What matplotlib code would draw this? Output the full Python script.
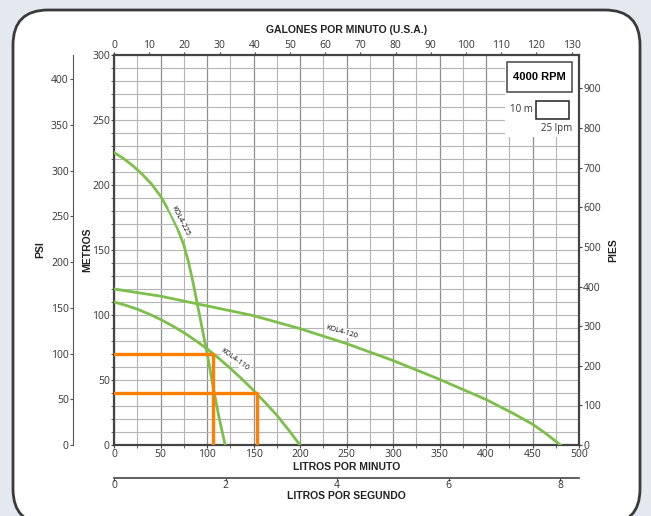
import matplotlib
matplotlib.use("Agg")
import matplotlib.pyplot as plt
from matplotlib.patches import FancyBboxPatch, Rectangle

# Pump curves, flow in litres per minute, head in metres
kol225_q = [0, 10, 20, 30, 40, 50, 60, 68, 75, 80, 85, 90, 95, 100, 106.5, 113, 119.5]
kol225_h = [225, 220.5, 215, 208.5, 201, 191.5, 179, 167, 154, 141, 125, 107, 89, 71, 45, 21, 0]

kol120_q = [0, 50, 100, 150, 200, 250, 300, 350, 400, 430, 450, 465, 480]
kol120_h = [120, 114.5, 107, 99.5, 89.5, 78, 65, 50.5, 35, 24, 16, 8.5, 0]

kol110_q = [0, 12.5, 25, 37.5, 50, 62.5, 75, 87.5, 100, 112.5, 125, 137.5, 150, 162.5, 175, 187.5, 200]
kol110_h = [110, 107.5, 104.5, 100.8, 96.6, 91.8, 86.5, 80.5, 74, 66.8, 59, 50.8, 42, 32.7, 23, 11.8, 0]

# Operating points (lpm, m)
op_q = [106, 154]
op_h = [70, 40]

lpm_ticks = [0, 50, 100, 150, 200, 250, 300, 350, 400, 450, 500]
m_ticks = [0, 50, 100, 150, 200, 250, 300]
gpm_ticks = list(range(0, 131, 10))
lps_ticks = [0, 2, 4, 6, 8]
psi_ticks = list(range(0, 401, 50))
ft_ticks = list(range(0, 901, 100))

GREEN = "#7cbf4a"
ORANGE = "#ff7f00"
DARK = "#444444"
TXT = "#333333"
narrow = ["Liberation Sans Narrow", "Liberation Sans", "DejaVu Sans"]
plt.rcParams["font.family"] = ["Open Sans", "DejaVu Sans"]

fig = plt.figure(figsize=(6.51, 5.16), dpi=100)
fig.patch.set_facecolor("#e3e9ef")

panel = FancyBboxPatch((0.13, -0.08), 6.27, 5.14,
                       boxstyle="round,pad=0,rounding_size=0.35",
                       transform=fig.dpi_scale_trans,
                       facecolor="white", edgecolor="#3a3a3a", lw=2, zorder=-10)
fig.patches.append(panel)

ax = fig.add_axes([114 / 651, 1 - 445 / 516, 465 / 651, 390 / 516])
ax.set_xlim(0, 500)
ax.set_ylim(0, 300)
ax.set_facecolor("white")

ax.set_xticks(lpm_ticks)
ax.set_xticks(range(0, 501, 25), minor=True)
ax.set_yticks(m_ticks)
ax.set_yticks(range(0, 301, 10), minor=True)
ax.grid(which="minor", color="#b5b5b5", lw=0.8)
ax.grid(which="major", axis="x", color="#8f8f8f", lw=0.9)
ax.grid(which="major", axis="y", color="#b5b5b5", lw=0.8)
ax.set_axisbelow(True)
ax.tick_params(which="both", length=2, color=DARK, labelsize=7.5, labelcolor=TXT, pad=1)
for s in ax.spines.values():
    s.set_color(DARK)
    s.set_linewidth(1.6)

# white area behind the RPM legend
ax.add_patch(Rectangle((420, 237), 80, 63, facecolor="white", edgecolor="none", zorder=1.5))

ax.plot(kol225_q, kol225_h, color=GREEN, lw=2, zorder=3, solid_joinstyle="round")
ax.plot(kol120_q, kol120_h, color=GREEN, lw=2, zorder=3, solid_joinstyle="round")
ax.plot(kol110_q, kol110_h, color=GREEN, lw=2, zorder=3, solid_joinstyle="round")

for q, h in zip(op_q, op_h):
    ax.plot([0, q, q], [h, h, 0], color=ORANGE, lw=2.4, zorder=4)

lbl = dict(fontsize=5.2, color="black", ha="center", va="center", zorder=5,
           bbox=dict(facecolor="white", edgecolor="none", pad=0.6))
ax.text(71, 172, "KOL4-225", rotation=-63, **lbl)
ax.text(130, 66, "KOL4-110", rotation=-36, **lbl)
ax.text(245, 87, "KOL4-120", rotation=-16, **lbl)

# RPM legend
ax.add_patch(Rectangle((0.845, 0.905), 0.14, 0.077, transform=ax.transAxes,
                       facecolor="white", edgecolor=DARK, lw=1.1, zorder=6))
ax.text(0.915, 0.944, "4000 RPM", transform=ax.transAxes, ha="center", va="center",
        fontsize=8, fontweight="bold", family=narrow, zorder=7)
ax.add_patch(Rectangle((0.908, 0.835), 0.071, 0.048, transform=ax.transAxes,
                       facecolor="white", edgecolor="#222222", lw=1.1, zorder=6))
ax.text(0.9, 0.86, "10 m", transform=ax.transAxes, ha="right", va="center",
        fontsize=7, color=TXT, zorder=6)
ax.text(0.985, 0.812, "25 lpm", transform=ax.transAxes, ha="right", va="center",
        fontsize=7, color=TXT, zorder=6)

ax.set_xlabel("LITROS POR MINUTO", fontsize=7.5, fontweight="bold", family=narrow,
              color="#222222", labelpad=1)
ax.set_ylabel("METROS", fontsize=7.5, fontweight="bold", family=narrow,
              color="#222222", labelpad=0)

# top axis: gallons per minute
ax_gpm = ax.twiny()
ax_gpm.set_xlim(0, 500 / 3.785)
ax_gpm.set_xticks(gpm_ticks)
ax_gpm.tick_params(length=2, color=DARK, labelsize=7.5, labelcolor=TXT, pad=1)
ax_gpm.set_xlabel("GALONES POR MINUTO (U.S.A.)", fontsize=7.5, fontweight="bold",
                  family=narrow, color="#222222", labelpad=5)
for s in ax_gpm.spines.values():
    s.set_visible(False)

# bottom axis: litres per second
ax_lps = ax.twiny()
ax_lps.set_xlim(0, 500 / 60)
ax_lps.set_xticks(lps_ticks)
ax_lps.xaxis.set_ticks_position("bottom")
ax_lps.xaxis.set_label_position("bottom")
ax_lps.spines["bottom"].set_position(("outward", 23.5))
for k in ["top", "left", "right"]:
    ax_lps.spines[k].set_visible(False)
ax_lps.spines["bottom"].set_color(DARK)
ax_lps.spines["bottom"].set_linewidth(1.2)
ax_lps.tick_params(length=2, color=DARK, labelsize=7.5, labelcolor=TXT, pad=0)
ax_lps.set_xlabel("LITROS POR SEGUNDO", fontsize=7.5, fontweight="bold", family=narrow,
                  color="#222222", labelpad=0)

# right axis: feet
ax_ft = ax.twinx()
ax_ft.set_ylim(0, 300 * 3.2808)
ax_ft.set_yticks(ft_ticks)
ax_ft.tick_params(length=2, color=DARK, labelsize=7.5, labelcolor=TXT, pad=1)
ax_ft.set_ylabel("PIES", fontsize=7.5, fontweight="bold", family=narrow,
                 color="#222222", labelpad=5)
for s in ax_ft.spines.values():
    s.set_visible(False)

# far left axis: psi
ax_psi = ax.twinx()
ax_psi.set_ylim(0, 300 * 1.4223)
ax_psi.set_yticks(psi_ticks)
ax_psi.yaxis.set_ticks_position("left")
ax_psi.yaxis.set_label_position("left")
ax_psi.spines["left"].set_position(("outward", 29.5))
for k in ["top", "bottom", "right"]:
    ax_psi.spines[k].set_visible(False)
ax_psi.spines["left"].set_color("#555555")
ax_psi.spines["left"].set_linewidth(0.8)
ax_psi.tick_params(length=2, color="#555555", labelsize=7.5, labelcolor=TXT, pad=1)
ax_psi.set_ylabel("PSI", fontsize=7.5, fontweight="bold", family=narrow,
                  color="#222222", labelpad=4)

fig.savefig("out.png", dpi=100, facecolor=fig.get_facecolor())
